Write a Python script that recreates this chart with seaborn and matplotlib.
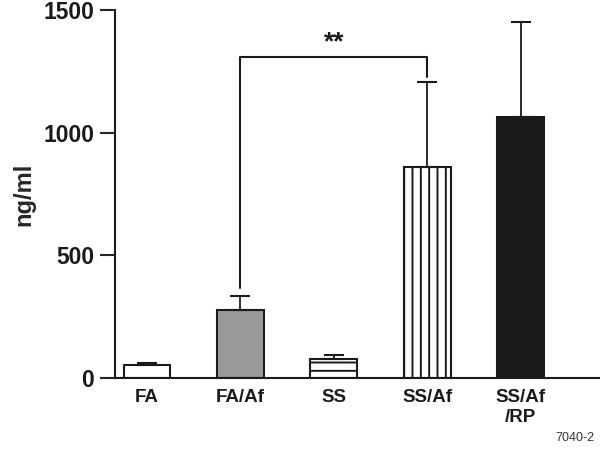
import matplotlib
matplotlib.use("Agg")
import matplotlib.pyplot as plt
import seaborn as sns
import pandas as pd
import numpy as np

groups = ["FA", "FA/Af", "SS", "SS/Af", "SS/Af\n/RP"]
means = [55, 277, 78, 860, 1062]
sems = [6, 57, 15, 345, 390]
bar_colors = ["white", "#999999", "white", "white", "#1a1a1a"]
hatches = ["", "", "--", "||", ""]

# significance bracket between FA/Af and SS/Af
bracket_groups = (1, 3)
bracket_y = 1310
bracket_left_low = 365
bracket_right_low = 1225
star_text = "**"

sns.set_style("ticks")
plt.rcParams["font.family"] = ["Liberation Sans", "DejaVu Sans"]
plt.rcParams["hatch.linewidth"] = 1.4
plt.rcParams["hatch.color"] = "#1a1a1a"

df = pd.DataFrame({"group": groups, "value": means})

fig = plt.figure(figsize=(6, 4.49), dpi=100)
ax = fig.add_axes([0.192, 0.158, 0.808, 0.82])

sns.barplot(data=df, x="group", y="value", order=groups, errorbar=None,
            width=0.5, ax=ax, edgecolor="#1a1a1a", linewidth=1.5)
for patch, c, h in zip(ax.patches, bar_colors, hatches):
    patch.set_facecolor(c)
    patch.set_hatch(h)

x = np.arange(len(groups))
ax.errorbar(x, means, yerr=[np.zeros(len(sems)), sems], fmt="none",
            ecolor="#1a1a1a", elinewidth=1.3, capsize=7, capthick=1.5, zorder=1)

# bracket
xl, xr = bracket_groups
ax.plot([xl, xl, xr, xr], [bracket_left_low, bracket_y, bracket_y, bracket_right_low],
        color="#1a1a1a", lw=1.5, clip_on=False)
ax.text((xl + xr) / 2, bracket_y + 10, star_text, ha="center", va="bottom",
        fontsize=19, fontweight="bold", color="#1a1a1a")

ax.set_ylim(0, 1500)
ax.set_xlim(-0.34, 4.85)
ax.set_yticks([0, 500, 1000, 1500])
ax.set_xlabel("")
ax.set_ylabel("ng/ml", fontsize=17, fontweight="bold", labelpad=6)
ax.tick_params(axis="y", length=11, width=1.5, labelsize=16.5, pad=4)
ax.tick_params(axis="x", length=0, labelsize=13.5, pad=8)
for lab in ax.get_xticklabels() + ax.get_yticklabels():
    lab.set_fontweight("bold")
    lab.set_color("#1a1a1a")
sns.despine(ax=ax)
for side in ["left", "bottom"]:
    ax.spines[side].set_linewidth(1.5)
    ax.spines[side].set_color("#1a1a1a")

fig.text(0.99, 0.012, "7040-2", ha="right", va="bottom", fontsize=9, color="#333333")

fig.savefig("out.png", dpi=100)
